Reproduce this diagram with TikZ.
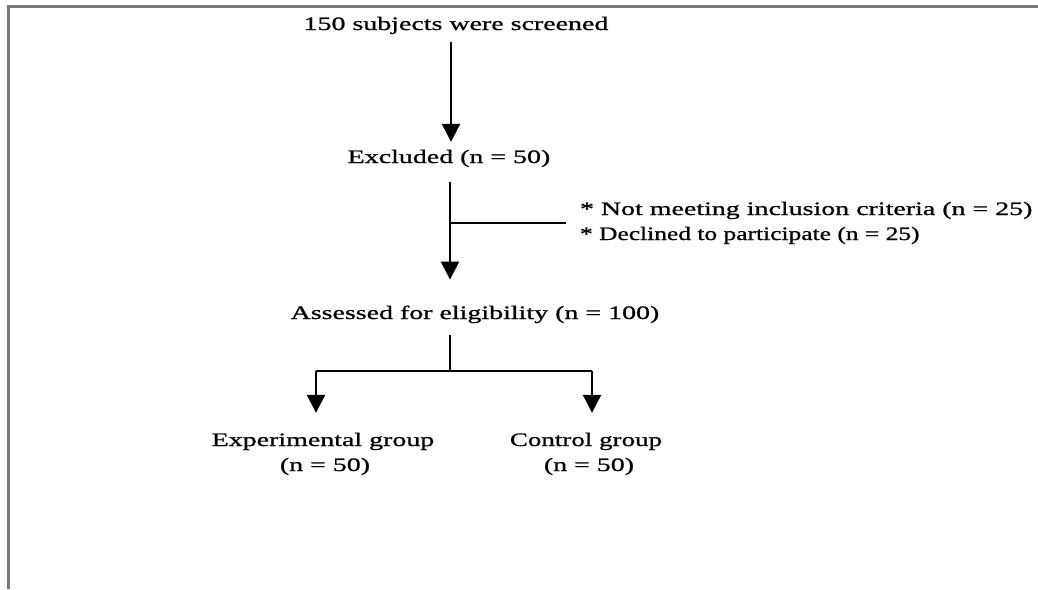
\documentclass[tikz,border=0pt]{standalone}
\usepackage{fontspec}
\setmainfont{Liberation Serif}[FakeStretch=1.47,FakeBold=0.9]
\newfontfamily\narrowserif{Liberation Serif}[FakeStretch=1.34,FakeBold=0.9]
\newfontfamily\midserif{Liberation Serif}[FakeStretch=1.42,FakeBold=0.9]
\usetikzlibrary{arrows.meta}
\begin{document}
\begin{tikzpicture}[x=1pt,y=-1pt,
  lbl/.style={inner sep=0pt, outer sep=0pt, font=\fontsize{19}{24}\selectfont},
  conn/.style={line width=2.2pt, black},
  arr/.style={conn, -{Triangle[width=18pt,length=18pt]}},
  frame/.style={line width=2.6pt, draw={rgb,255:red,120;green,120;blue,120}}]
\useasboundingbox (0,0) rectangle (1038,589);
\draw[frame] (8.6,589) -- (8.6,6.5) -- (1038,6.5);
% texts
\node[lbl, anchor=base] (scr) at (456,30) {150 subjects were screened};
\node[lbl, anchor=base] (exc) at (449,163) {Excluded (n = 50)};
\node[lbl, anchor=base west] (noteA) at (580,215) {* Not meeting inclusion criteria (n = 25)};
\node[lbl, anchor=base west, font=\fontsize{19}{24}\narrowserif] (noteB) at (580,240) {* Declined to participate (n = 25)};
\node[lbl, anchor=base] (ass) at (475,319) {Assessed for eligibility (n = 100)};
\node[lbl, anchor=base] (expA) at (323,446) {Experimental group};
\node[lbl, anchor=base] (expB) at (325,471) {(n = 50)};
\node[lbl, anchor=base, font=\fontsize{19}{24}\midserif] (conA) at (586,446) {Control group};
\node[lbl, anchor=base] (conB) at (589,471) {(n = 50)};
% junctions
\coordinate (trunk) at (451,0);
\coordinate (jA) at (450,223);
\coordinate (jB) at (450,371);
\coordinate (bl) at (316,371);
\coordinate (br) at (592,371);
% connectors
\draw[arr, shorten <=8pt, shorten >=8pt] (scr.south -| trunk) -- (exc.north -| trunk);
\draw[arr, shorten <=15pt, shorten >=26pt] (exc.south -| jA) -- (ass.north -| jA);
\draw[conn, shorten >=14pt] (jA) -- (jA -| noteA.west);
\draw[conn, shorten <=12pt] (ass.south -| jB) -- (jB);
\draw[conn] (bl) -- (br);
\draw[arr, shorten >=20pt] (bl) -- (bl |- expA.north);
\draw[arr, shorten >=20pt] (br) -- (br |- conA.north);
\end{tikzpicture}
\end{document}
